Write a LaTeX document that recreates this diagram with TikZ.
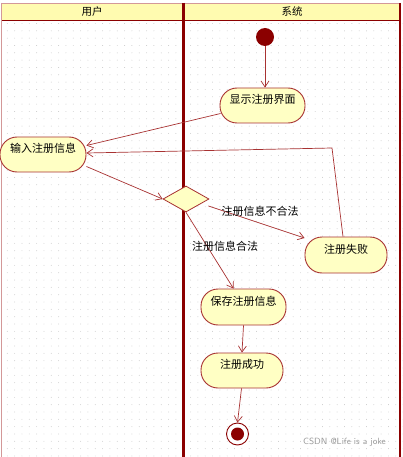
\documentclass[tikz,border=0pt]{standalone}
\usepackage{fontspec}
\newfontfamily\cjk{Noto Sans CJK SC}
\usetikzlibrary{arrows.meta,shapes.geometric}
\definecolor{dred}{HTML}{8B0000}
\definecolor{lred}{HTML}{A83232}
\definecolor{nfill}{HTML}{FFFFC4}
\definecolor{hfill}{HTML}{FFFBB0}
\definecolor{dotc}{HTML}{C8C8C8}
\tikzset{
  act/.style={draw=lred, line width=0.9pt, fill=nfill, rounded corners=17pt,
    minimum height=35pt, inner sep=0pt, text height=8pt, text depth=12pt,
    font=\cjk\fontsize{11}{12}\selectfont, anchor=center},
  flow/.style={draw=lred, line width=0.7pt, -{Straight Barb[length=6pt,width=8pt,line width=0.7pt]}},
  lbl/.style={font=\cjk\fontsize{11}{12}\selectfont, inner sep=0pt},
  hdr/.style={font=\cjk\fontsize{10.5}{12}\selectfont, inner sep=0pt}
}
\begin{document}
\begin{tikzpicture}[x=1pt,y=-1pt]
\useasboundingbox (0,0) rectangle (403,457);
\fill[white] (0,0) rectangle (403,457);
% dot grid
\foreach \i in {0,...,54} {
  \foreach \j in {0,...,59} {
    \fill[dotc] ({7.33*\i+7.3},{23.5+7.33*\j}) circle (0.45pt);
  }
}
% header
\fill[hfill] (1,3) rectangle (400,20);
\draw[draw=lred!50, line width=0.6pt] (1,3) -- (400,3);
\draw[dred, line width=1.5pt] (1,20.5) -- (400,20.5);
\node[hdr] (h1) at (92,11.5) {用户};
\node[hdr] (h2) at (292,11.5) {系统};
% lane lines
\draw[lred!50, line width=0.8pt] (1,3) -- (1,457);
\draw[dred, line width=3pt] (183.5,3) -- (183.5,457);
\draw[dred, line width=1.6pt] (400,3) -- (400,457);
% nodes
\fill[dred] (265,37) circle (9pt) coordinate (init);
\node[act, minimum width=85pt] (show) at (262.5,105.5) {显示注册界面};
\node[act, minimum width=86pt] (input) at (43,154.5) {输入注册信息};
\node[draw=lred, line width=0.8pt, fill=nfill, diamond, minimum width=46pt, minimum height=26pt, inner sep=0pt, aspect=1.8] (dec) at (186,199) {};
\node[act, minimum width=82pt, minimum height=36pt] (fail) at (346,255) {注册失败};
\node[act, minimum width=85pt, minimum height=36pt] (save) at (243.5,307) {保存注册信息};
\node[act, minimum width=82pt] (ok) at (242,370.5) {注册成功};
\node[circle, draw=dred, line width=0.9pt, fill=white, minimum size=22pt, inner sep=0pt] (fin) at (237.5,434) {};
\fill[dred] (fin.center) circle (6.5pt);
% edges
\coordinate (initb) at (265,46);
\draw[flow] (initb) -- (show.north -| initb);
\draw[flow] ([xshift=1pt,yshift=-8pt]show.west) -- ([yshift=9pt]input.east);
\coordinate (bend) at (332,148);
\draw[flow] ([xshift=-3pt]fail.north) -- (bend) -- ([yshift=1.5pt]input.east);
\draw[flow] ([yshift=-12pt]input.east) -- (dec.west);
\draw[flow] ([xshift=-1pt,yshift=-7pt]dec.east) -- ([yshift=17pt]fail.west);
\draw[flow] (dec.south) -- ([xshift=-10pt]save.north);
\draw[flow] (save.south) -- (ok.north);
\draw[flow] ([xshift=-0.5pt]ok.south) -- (fin.north);
% labels
\node[lbl] (l1) at (260,211) {注册信息不合法};
\node[lbl] (l2) at (225,246) {注册信息合法};
\node[font=\fontsize{9}{10}\selectfont\sffamily, text=gray!80, inner sep=0pt] (wm) at (344.5,442) {CSDN @Life is a joke};
\end{tikzpicture}
\end{document}
